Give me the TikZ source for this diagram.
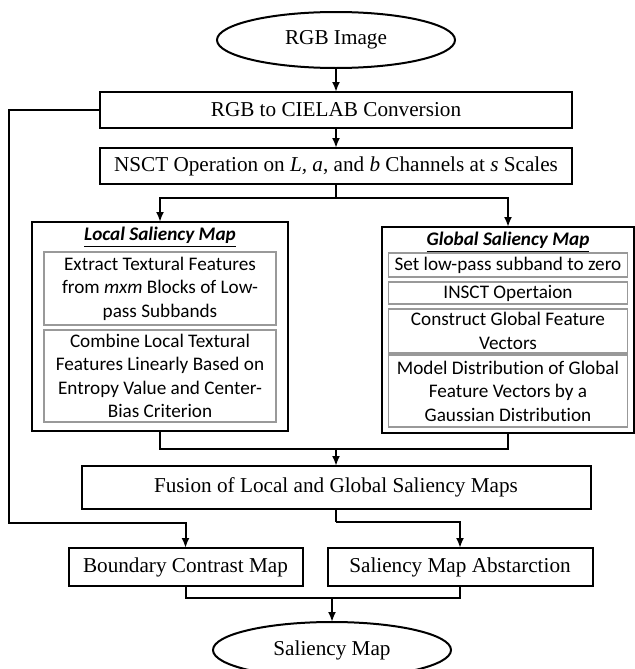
\documentclass[tikz,border=0pt]{standalone}
\usepackage{fontspec}
\setmainfont{Liberation Serif}
\newfontfamily\calibri[Ligatures=NoCommon]{Carlito}
\usetikzlibrary{positioning,shapes.geometric,arrows.meta}

\tikzset{
  block/.style={draw, line width=1pt, minimum height=18pt, inner sep=0pt, outer sep=0pt, font=\fontsize{10.6}{12.7}\selectfont},
  terminal/.style={draw, ellipse, line width=1pt, minimum width=119pt, minimum height=28pt, inner sep=0pt, outer sep=0pt, font=\fontsize{10.6}{12.7}\selectfont},
  panel/.style={draw, line width=1pt, inner sep=0pt, outer sep=0pt},
  subbox/.style={draw=gray!80, line width=0.6pt, inner sep=0pt, outer sep=0pt, align=center, font=\calibri\fontsize{9.6}{11.75}\selectfont},
  heading/.style={inner sep=1pt, outer sep=0pt, font=\calibri\fontsize{9.6}{11.75}\selectfont\bfseries\itshape},
}

\begin{document}
\begin{tikzpicture}[line width=1pt, >={Latex[length=5pt,width=4pt]}]
    \useasboundingbox (0,0) rectangle (317.5pt,-334.5pt);
      \node (rgb) [terminal] at (168pt,-20pt) {RGB Image};
      \node (cielab) [block, minimum width=236pt, below=12pt of rgb] {RGB to CIELAB Conversion};
      \node (nsct) [block, minimum width=236pt, below=10pt of cielab] {NSCT Operation on \textit{L, a}, and \textit{b} Channels at \textit{s} Scales};
      % local and global panels
      \node (local) [panel, minimum width=128pt, minimum height=104.5pt, below=19pt of nsct, xshift=-88pt] {};
      \node (global) [panel, minimum width=126pt, minimum height=103pt, below=21.5pt of nsct, xshift=86pt] {};
      \node (ltitle) [heading, below=1.5pt of local.north] {\underline{Local Saliency Map}};
      \node (lext) [subbox, minimum width=116pt, minimum height=36.5pt, below=15pt of local.north] {Extract Textural Features\\from \textit{mxm} Blocks of Low-\\pass Subbands};
      \node (lcomb) [subbox, minimum width=116pt, minimum height=46pt, below=2.5pt of lext] {Combine Local Textural\\Features Linearly Based on\\Entropy Value and Center-\\Bias Criterion};
      \node (gtitle) [heading, below=1.5pt of global.north] {\underline{Global Saliency Map}};
      \node (gzero) [subbox, minimum width=119.5pt, minimum height=12pt, below=13pt of global.north] {Set low-pass subband to zero};
      \node (ginsct) [subbox, minimum width=119.5pt, minimum height=11pt, below=2.5pt of gzero] {INSCT Opertaion};
      \node (gvec) [subbox, minimum width=119.5pt, minimum height=22pt, below=2.5pt of ginsct] {Construct Global Feature\\Vectors};
      \node (gmodel) [subbox, minimum width=119.5pt, minimum height=36pt, below=1pt of gvec] {Model Distribution of Global\\Feature Vectors by a\\Gaussian Distribution};
      % lower part
      \node (fusion) [block, minimum width=254.5pt, minimum height=21.5pt, below=141pt of nsct] {Fusion of Local and Global Saliency Maps};
      \node (boundary) [block, minimum width=117pt, minimum height=19pt, below=19.5pt of fusion, xshift=-75.25pt] {Boundary Contrast Map};
      \node (abstr) [block, minimum width=132.5pt, minimum height=19pt, below=19.5pt of fusion, xshift=62pt] {Saliency Map Abstarction};
      \node (salmap) [terminal, below=56.5pt of fusion, xshift=-2pt] {Saliency Map};
      \coordinate [below=7pt of nsct] (split);
      \coordinate [above=8.5pt of fusion] (join);
      \coordinate [below=6.5pt of fusion] (fsplit);
      \coordinate (loop) at (4.5pt,-261.5pt);
      \coordinate [above=12pt of salmap] (mjoin);
    \draw [->] (rgb) -- (cielab);
    \draw [->] (cielab) -- (nsct);
    \draw [-] (nsct) -- (split);
    \draw [->] (split) -| (local);
    \draw [->] (split) -| (global);
    \draw [-] (local) |- (join);
    \draw [-] (global) |- (join);
    \draw [->] (join) -- (fusion);
    \draw [->] (cielab.west) -| (loop) -| (boundary);
    \draw [-] (fusion) -- (fsplit);
    \draw [->] (fsplit) -| (abstr);
    \draw [-] (boundary) |- (mjoin);
    \draw [-] (abstr) |- (mjoin);
    \draw [->] (mjoin) -- (salmap);
\end{tikzpicture}
\end{document}
